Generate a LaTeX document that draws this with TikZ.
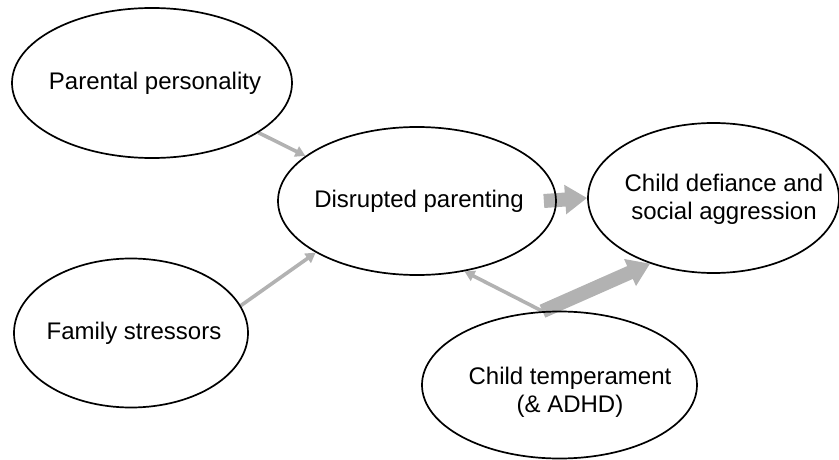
\documentclass[tikz,border=0pt]{standalone}
\usepackage{fontspec}
\setmainfont{Liberation Sans}
\usetikzlibrary{shapes.geometric,arrows.meta,backgrounds}
\definecolor{arrowgray}{RGB}{178,178,178}
\begin{document}
\begin{tikzpicture}[x=1pt,y=-1pt,
  oval/.style={draw=black,line width=1.7pt,ellipse,inner sep=0pt},
  label text/.style={inner sep=0pt,align=center,font=\fontsize{24}{28}\selectfont},
  thinarrow/.style={draw=arrowgray,line width=3.6pt,-{Triangle[length=10pt,width=11pt]}},
  thickarrow/.style={draw=arrowgray,line width=14pt,-{Triangle[length=22pt,width=28pt]}}]
\useasboundingbox (0,0) rectangle (839,460);
\node[oval,minimum width=280pt,minimum height=150pt] (pp) at (152,83) {};
\node[label text] (pptext) at (155,83) {Parental personality};
\node[oval,minimum width=234pt,minimum height=149pt] (fs) at (131,333) {};
\node[label text] (fstext) at (134,333) {Family stressors};
\node[oval,minimum width=278pt,minimum height=148pt] (dp) at (417,201) {};
\node[label text] (dptext) at (419,201) {Disrupted parenting};
\node[oval,minimum width=251pt,minimum height=150pt] (cd) at (713.5,198) {};
\node[label text] (cdtext) at (724,199) {Child defiance and\\social aggression};
\node[oval,minimum width=275pt,minimum height=147pt] (ct) at (559.5,385) {};
\node[label text] (cttext) at (570,392) {Child temperament\\(\& ADHD)};
\begin{pgfonlayer}{background}
\draw[thinarrow] (pp.-25) -- (dp.158);
\draw[thinarrow] (fs.14) -- (dp.-153);
\draw[thinarrow] (ct.103) -- (dp.-56);
\draw[thickarrow] ([xshift=-13pt]dp.east) -- (cd.west);
\draw[thickarrow] (ct.103) -- (cd.-134);
\end{pgfonlayer}
\end{tikzpicture}
\end{document}
